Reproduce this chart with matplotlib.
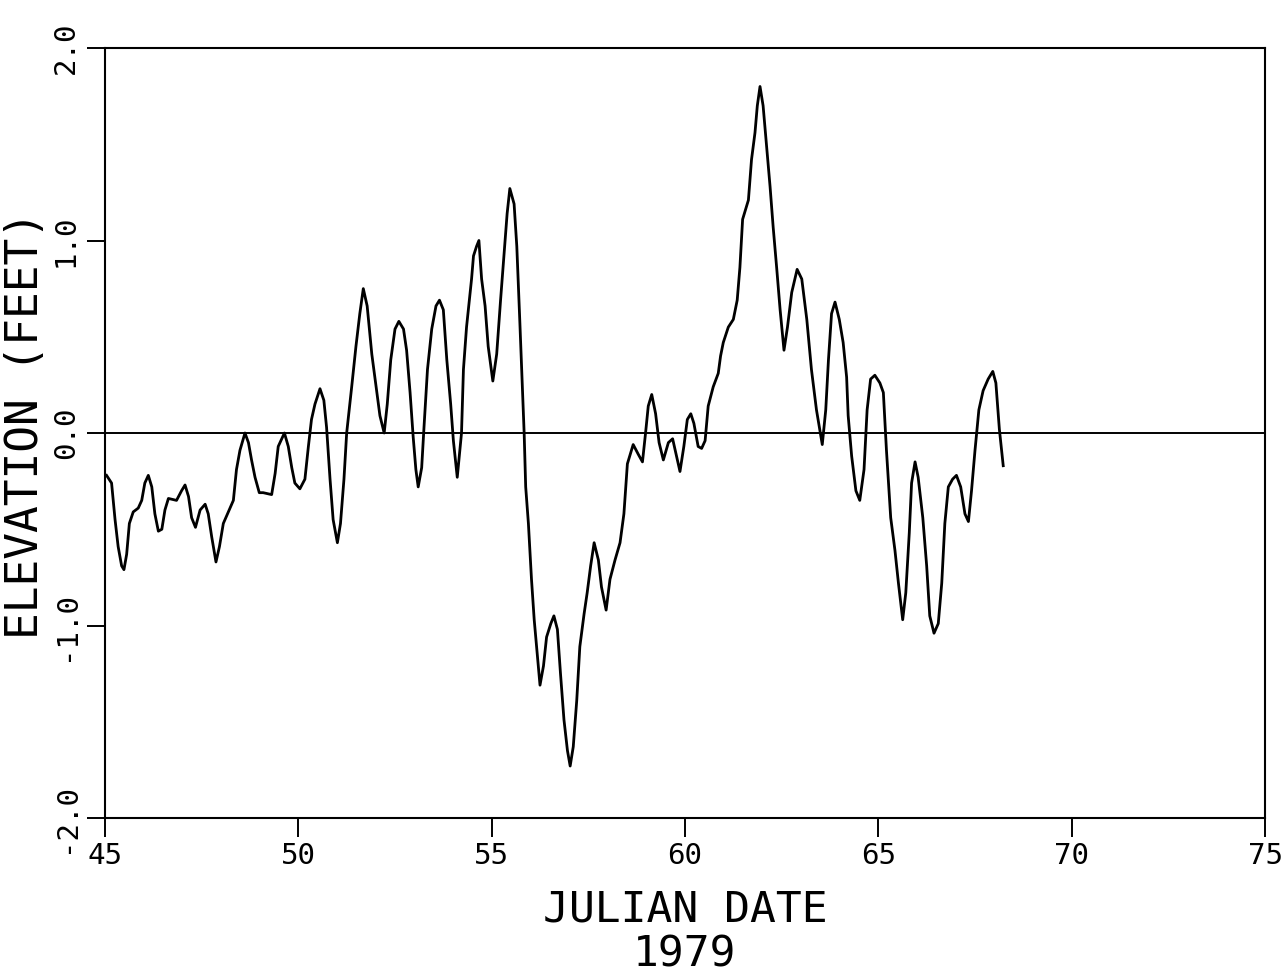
import matplotlib
matplotlib.use('Agg')
import matplotlib.pyplot as plt

# Julian date (1979) and water surface elevation (feet)
julian_day = [45.04, 45.17, 45.26, 45.34, 45.43, 45.49, 45.56, 45.63, 45.73, 45.86,
              45.95, 46.03, 46.12, 46.21, 46.29, 46.38, 46.47, 46.55, 46.64, 46.85,
              46.98, 47.07, 47.16, 47.24, 47.34, 47.46, 47.59, 47.67, 47.76, 47.87,
              47.96, 48.06, 48.19, 48.32, 48.40, 48.49, 48.62, 48.71, 48.79, 48.88,
              48.99, 49.09, 49.31, 49.40, 49.48, 49.64, 49.74, 49.83, 49.91, 50.04,
              50.17, 50.26, 50.34, 50.43, 50.56, 50.66, 50.73, 50.82, 50.90, 51.01,
              51.09, 51.18, 51.25, 51.38, 51.49, 51.59, 51.68, 51.78, 51.90, 52.03,
              52.11, 52.22, 52.30, 52.39, 52.50, 52.60, 52.72, 52.80, 52.89, 52.97,
              53.04, 53.10, 53.19, 53.25, 53.34, 53.45, 53.56, 53.65, 53.75, 53.84,
              53.94, 54.01, 54.11, 54.22, 54.27, 54.35, 54.48, 54.53, 54.61, 54.67,
              54.74, 54.83, 54.91, 55.03, 55.13, 55.23, 55.32, 55.40, 55.47, 55.58,
              55.65, 55.73, 55.84, 55.88, 55.95, 56.03, 56.10, 56.18, 56.25, 56.34,
              56.42, 56.53, 56.61, 56.70, 56.78, 56.87, 56.96, 57.03, 57.11, 57.20,
              57.28, 57.39, 57.47, 57.56, 57.65, 57.76, 57.84, 57.96, 58.06, 58.19,
              58.32, 58.42, 58.51, 58.66, 58.79, 58.90, 58.98, 59.05, 59.14, 59.24,
              59.33, 59.44, 59.57, 59.68, 59.78, 59.87, 59.97, 60.06, 60.15, 60.23,
              60.34, 60.43, 60.52, 60.60, 60.73, 60.86, 60.92, 60.99, 61.12, 61.25,
              61.35, 61.42, 61.49, 61.64, 61.72, 61.81, 61.87, 61.94, 62.02, 62.11,
              62.20, 62.28, 62.37, 62.46, 62.56, 62.65, 62.76, 62.90, 63.02, 63.15,
              63.27, 63.40, 63.55, 63.64, 63.71, 63.79, 63.88, 63.99, 64.09, 64.18,
              64.22, 64.31, 64.42, 64.52, 64.63, 64.71, 64.80, 64.91, 65.04, 65.13,
              65.21, 65.32, 65.43, 65.52, 65.63, 65.71, 65.80, 65.86, 65.95, 66.03,
              66.15, 66.25, 66.33, 66.44, 66.55, 66.64, 66.72, 66.81, 66.92, 67.02,
              67.13, 67.24, 67.33, 67.41, 67.50, 67.60, 67.71, 67.84, 67.96, 68.04,
              68.13, 68.23]
elevation = [-0.22, -0.26, -0.45, -0.59, -0.69, -0.71, -0.63, -0.47, -0.41, -0.39,
             -0.35, -0.26, -0.22, -0.28, -0.42, -0.51, -0.50, -0.40, -0.34, -0.35,
             -0.30, -0.27, -0.33, -0.44, -0.49, -0.40, -0.37, -0.42, -0.54, -0.67,
             -0.59, -0.47, -0.41, -0.35, -0.19, -0.09, 0.00, -0.05, -0.14, -0.23,
             -0.31, -0.31, -0.32, -0.21, -0.07, 0.00, -0.07, -0.18, -0.26, -0.29,
             -0.24, -0.07, 0.07, 0.15, 0.23, 0.17, 0.03, -0.24, -0.45, -0.57,
             -0.47, -0.24, 0.00, 0.24, 0.45, 0.62, 0.75, 0.66, 0.41, 0.21,
             0.09, 0.00, 0.15, 0.38, 0.54, 0.58, 0.54, 0.43, 0.21, -0.02,
             -0.19, -0.28, -0.18, 0.03, 0.33, 0.54, 0.66, 0.69, 0.64, 0.38,
             0.15, -0.04, -0.23, 0.00, 0.33, 0.55, 0.80, 0.92, 0.97, 1.00,
             0.80, 0.66, 0.45, 0.27, 0.41, 0.69, 0.93, 1.14, 1.27, 1.19,
             0.97, 0.57, 0.00, -0.28, -0.47, -0.76, -0.97, -1.15, -1.31, -1.21,
             -1.06, -0.99, -0.95, -1.02, -1.25, -1.49, -1.65, -1.73, -1.63, -1.39,
             -1.11, -0.94, -0.83, -0.69, -0.57, -0.66, -0.80, -0.92, -0.76, -0.66,
             -0.57, -0.42, -0.16, -0.06, -0.11, -0.15, 0.00, 0.14, 0.20, 0.10,
             -0.05, -0.14, -0.05, -0.03, -0.12, -0.20, -0.07, 0.07, 0.10, 0.05,
             -0.07, -0.08, -0.04, 0.14, 0.24, 0.31, 0.40, 0.47, 0.55, 0.59,
             0.69, 0.86, 1.11, 1.21, 1.42, 1.56, 1.70, 1.80, 1.70, 1.49,
             1.28, 1.07, 0.86, 0.64, 0.43, 0.55, 0.73, 0.85, 0.80, 0.59,
             0.33, 0.12, -0.06, 0.12, 0.38, 0.62, 0.68, 0.59, 0.47, 0.29,
             0.09, -0.12, -0.30, -0.35, -0.19, 0.12, 0.28, 0.30, 0.26, 0.21,
             -0.09, -0.44, -0.61, -0.78, -0.97, -0.83, -0.52, -0.26, -0.15, -0.23,
             -0.44, -0.69, -0.95, -1.04, -0.99, -0.78, -0.47, -0.28, -0.24, -0.22,
             -0.28, -0.42, -0.46, -0.30, -0.09, 0.12, 0.22, 0.28, 0.32, 0.26,
             0.02, -0.17]

x_ticks = [45, 50, 55, 60, 65, 70, 75]
y_ticks = [-2.0, -1.0, 0.0, 1.0, 2.0]
y_tick_labels = ['-2.0', '-1.0', '0.0', '1.0', '2.0']

plt.rcParams['font.family'] = ['DejaVu Sans Mono']

fig = plt.figure(figsize=(12.87, 9.75), dpi=100)
ax = fig.add_axes([105/1287, 1 - 818/975, 1160/1287, 770/975])

ax.plot(julian_day, elevation, color='black', linewidth=2.0)
ax.axhline(0.0, color='black', linewidth=1.4)

ax.set_xlim(45, 75)
ax.set_ylim(-2.0, 2.0)
ax.set_xticks(x_ticks)
ax.set_xticklabels([str(t) for t in x_ticks])
ax.set_yticks(y_ticks)
ax.set_yticklabels(y_tick_labels, rotation=90, va='center')

for spine in ax.spines.values():
    spine.set_linewidth(1.5)
ax.tick_params(direction='out', width=1.4, labelsize=21)
ax.tick_params(axis='x', length=14, pad=3)
ax.tick_params(axis='y', length=13, pad=5)

ax.set_ylabel('ELEVATION (FEET)', fontsize=32)
ax.yaxis.set_label_coords(-0.050, 0.51)

ax.set_xlabel('JULIAN DATE\n1979', fontsize=31, linespacing=1.08, va='top')
ax.xaxis.set_label_coords(0.5, -0.092)

fig.savefig('out.png', dpi=100, facecolor='white')
